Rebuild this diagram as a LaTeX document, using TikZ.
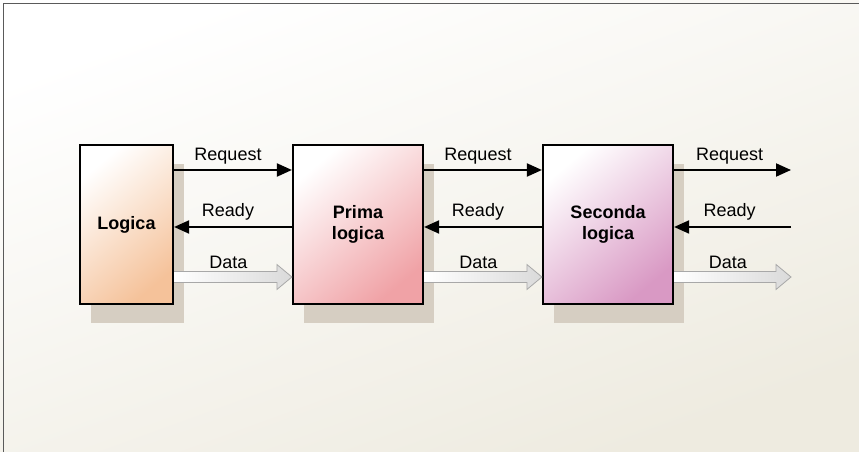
\documentclass[tikz,border=0pt]{standalone}
\usepackage{fontspec}
\setmainfont{Liberation Sans}
\usetikzlibrary{arrows.meta,calc,shadows}
\definecolor{framegray}{HTML}{5A5A5A}
\definecolor{paper}{HTML}{EEEBE0}
\definecolor{boxshadow}{HTML}{D6CEC2}
\definecolor{peach}{HTML}{F5C29A}
\definecolor{rosered}{HTML}{F0A2A6}
\definecolor{mauve}{HTML}{D999C4}
\definecolor{pipegray}{HTML}{A8A8A8}
\definecolor{pipefill}{HTML}{DADADA}

%% freccia cava per il bus dei dati
\newcommand{\dataflow}[2]{%
  \shadedraw[datapipe]
    ($(#1)+(0,-47)$) -- ($(#2)+(-15,-47)$) -- ($(#2)+(-15,-40)$)
    -- ($(#2)+(0,-52.5)$) -- ($(#2)+(-15,-65)$) -- ($(#2)+(-15,-58)$)
    -- ($(#1)+(0,-58)$);}

\begin{document}
\begin{tikzpicture}[x=1pt, y=1pt,
                    every node/.style={font=\fontsize{18}{21}\selectfont},
                    stage/.style={draw=black, line width=2.2pt, shade,
                                  top color=white, bottom color=#1, shading angle=40,
                                  minimum height=159pt, inner sep=0pt,
                                  align=center, font=\fontsize{18}{21}\selectfont\bfseries,
                                  drop shadow={shadow xshift=11pt, shadow yshift=-19pt,
                                               fill=boxshadow, opacity=1}},
                    wire/.style={line width=2pt, -{Triangle[length=15pt, width=13pt]}},
                    datapipe/.style={draw=pipegray, line width=0.8pt,
                                     left color=white, right color=pipefill}]

  \useasboundingbox (0,0) rectangle (859,452);

  %% sfondo e cornice
  \shade[top color=white, bottom color=paper, shading angle=20]
    (0,0) rectangle (859,452);
  \draw[framegray, line width=1.6pt] (3.5,0) -- (3.5,448.5) -- (859,448.5);

  %% i tre blocchi
  \node[stage=peach, minimum width=93pt] (logica) at (126.5,227.5) {Logica};
  \node[stage=rosered, minimum width=130pt] (prima) at (358,227.5) {Prima\\logica};
  \node[stage=mauve, minimum width=130pt] (seconda) at (608,227.5) {Seconda\\logica};
  \coordinate (uscita) at (791,227.5);

  %% Request (verso destra)
  \draw[wire] ([yshift=54.5pt]logica.east) -- ([yshift=54.5pt]prima.west)
    node[midway, above=1pt, xshift=-5pt] {Request};
  \draw[wire] ([yshift=54.5pt]prima.east) -- ([yshift=54.5pt]seconda.west)
    node[midway, above=1pt, xshift=-5pt] {Request};
  \draw[wire] ([yshift=54.5pt]seconda.east) -- ($(uscita)+(0,54.5)$)
    node[midway, above=1pt, xshift=-3pt] {Request};

  %% Ready (verso sinistra)
  \draw[wire] ([yshift=-2.5pt]prima.west) -- ([yshift=-2.5pt]logica.east)
    node[midway, above=2pt, xshift=-5pt] {Ready};
  \draw[wire] ([yshift=-2.5pt]seconda.west) -- ([yshift=-2.5pt]prima.east)
    node[midway, above=2pt, xshift=-5pt] {Ready};
  \draw[wire] ($(uscita)+(0,-2.5)$) -- ([yshift=-2.5pt]seconda.east)
    node[midway, above=2pt, xshift=-3pt] {Ready};

  %% Data
  \dataflow{logica.east}{prima.west}
  \dataflow{prima.east}{seconda.west}
  \dataflow{seconda.east}{uscita}
  \node at ($(logica.east)!0.46!(prima.west)+(0,-37.5)$) {Data};
  \node at ($(prima.east)!0.46!(seconda.west)+(0,-37.5)$) {Data};
  \node at ($(seconda.east)!0.46!(uscita)+(0,-37.5)$) {Data};

\end{tikzpicture}
\end{document}
